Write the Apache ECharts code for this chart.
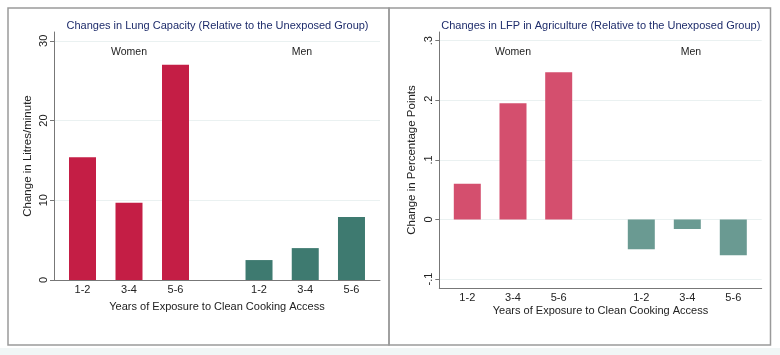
<!DOCTYPE html>
<html>
<head>
<meta charset="utf-8">
<script src="https://cdn.jsdelivr.net/npm/echarts@6/dist/echarts.min.js"></script>
<style>
html,body{margin:0;padding:0;background:#fff;}
#chart{width:780px;height:355px;}
</style>
</head>
<body>
<div id="chart"></div>
<script>
// ---- data ----
const categories = ['1-2', '3-4', '5-6'];
const groupLabels = ['Women', 'Men'];
const lungWomen = [15.4, 9.7, 27.0];
const lungMen = [2.5, 4.0, 7.9];
const lfpWomen = [0.06, 0.195, 0.247];
const lfpMen = [-0.05, -0.016, -0.06];
const lungTicks = [0, 10, 20, 30];
const lfpTicks = [-0.1, 0, 0.1, 0.2, 0.3];
const titles = ['Changes in Lung Capacity (Relative to the Unexposed Group)',
                'Changes in LFP in Agriculture (Relative to the Unexposed Group)'];
const yNames = ['Change in Litres/minute', 'Change in Percentage Points'];
const xName = 'Years of Exposure to Clean Cooking Access';

const FONT = '"Liberation Sans", Arial, Helvetica, sans-serif';
const colors = {
  lungW: '#c41e45', lungM: '#3e7a70',
  lfpW: '#d44f6e', lfpM: '#6a9a92'
};
const lungRange = [0, 31.1];
const lfpRange = [-0.115, 0.3146];

function fmtLfp(v) {
  if (Math.abs(v) < 1e-9) return '0';
  const s = String(Math.round(v * 10) / 10);
  return s.replace('0.', '.');
}

const chart = echarts.init(document.getElementById('chart'));

function bgY(gridIndex, range, ticks, name, nameGap, fmt) {
  return {
    gridIndex: gridIndex, type: 'value', min: range[0], max: range[1],
    name: name, nameLocation: 'middle', nameGap: nameGap, nameRotate: 90,
    nameTextStyle: {fontFamily: FONT, fontSize: 11.5, color: '#222'},
    axisLine: {show: true, lineStyle: {color: '#777', width: 1}},
    axisTick: {show: true, length: 4, customValues: ticks, lineStyle: {color: '#777'}},
    axisLabel: {show: true, rotate: 90, margin: 5, customValues: ticks,
      fontFamily: FONT, fontSize: 11, color: '#222', formatter: fmt},
    splitLine: {show: true, lineStyle: {color: '#eaf1f1', width: 1}}
  };
}
function hidY(gridIndex, range) {
  return {gridIndex: gridIndex, type: 'value', min: range[0], max: range[1], show: false,
    splitLine: {show: false}};
}
function bgX(gridIndex, nameGap) {
  return {
    gridIndex: gridIndex, type: 'value', min: 0, max: 1,
    name: xName, nameLocation: 'middle', nameGap: nameGap,
    nameTextStyle: {fontFamily: FONT, fontSize: 11, color: '#222'},
    axisLine: {show: true, onZero: false, lineStyle: {color: '#777', width: 1}},
    axisTick: {show: false}, axisLabel: {show: false}, splitLine: {show: false}
  };
}
function catX(gridIndex) {
  return {
    gridIndex: gridIndex, type: 'category', data: categories,
    axisLine: {show: false, onZero: false}, axisTick: {show: false},
    axisLabel: {show: true, margin: 4, fontFamily: FONT, fontSize: 11, color: '#222'},
    splitLine: {show: false}
  };
}
function bar(xi, yi, data, color) {
  return {type: 'bar', xAxisIndex: xi, yAxisIndex: yi, data: data, barWidth: 27,
    itemStyle: {color: color}, silent: true};
}

const option = {
  animation: false,
  backgroundColor: '#ffffff',
  title: [
    {text: titles[0], left: 217.5, top: 20, textAlign: 'center', padding: 0,
     textStyle: {fontFamily: FONT, fontSize: 11, fontWeight: 'normal', color: '#1e2c6b'}},
    {text: titles[1], left: 600.8, top: 20, textAlign: 'center', padding: 0,
     textStyle: {fontFamily: FONT, fontSize: 11, fontWeight: 'normal', color: '#1e2c6b'}}
  ],
  grid: [
    {left: 54, top: 32, width: 326, height: 248},
    {left: 59.25, top: 32, width: 139.5, height: 248},
    {left: 235.9, top: 32, width: 138.7, height: 248},
    {left: 439.3, top: 32, width: 322.4, height: 256},
    {left: 444.45, top: 32, width: 137.1, height: 256},
    {left: 618.3, top: 32, width: 138, height: 256}
  ],
  xAxis: [bgX(0, 21), catX(1), catX(2), bgX(3, 17), catX(4), catX(5)],
  yAxis: [
    bgY(0, lungRange, lungTicks, yNames[0], 20, v => String(v)),
    hidY(1, lungRange), hidY(2, lungRange),
    bgY(3, lfpRange, lfpTicks, yNames[1], 21, fmtLfp),
    hidY(4, lfpRange), hidY(5, lfpRange)
  ],
  series: [
    bar(1, 1, lungWomen, colors.lungW),
    bar(2, 2, lungMen, colors.lungM),
    bar(4, 4, lfpWomen, colors.lfpW),
    bar(5, 5, lfpMen, colors.lfpM)
  ],
  graphic: [
    {type: 'rect', shape: {x: 0, y: 348, width: 780, height: 7}, style: {fill: '#f1f6f6'}, silent: true},
    {type: 'rect', shape: {x: 8, y: 8, width: 381, height: 337},
     style: {fill: 'none', stroke: '#9a9a9a', lineWidth: 1.5}, silent: true},
    {type: 'rect', shape: {x: 389, y: 8, width: 381.5, height: 337},
     style: {fill: 'none', stroke: '#9a9a9a', lineWidth: 1.5}, silent: true},
    {type: 'text', x: 129, y: 52, style: {text: groupLabels[0], fontFamily: FONT, fontSize: 10.5,
      fill: '#222', align: 'center', verticalAlign: 'middle'}, silent: true},
    {type: 'text', x: 302, y: 52, style: {text: groupLabels[1], fontFamily: FONT, fontSize: 10.5,
      fill: '#222', align: 'center', verticalAlign: 'middle'}, silent: true},
    {type: 'text', x: 513, y: 52, style: {text: groupLabels[0], fontFamily: FONT, fontSize: 10.5,
      fill: '#222', align: 'center', verticalAlign: 'middle'}, silent: true},
    {type: 'text', x: 691, y: 52, style: {text: groupLabels[1], fontFamily: FONT, fontSize: 10.5,
      fill: '#222', align: 'center', verticalAlign: 'middle'}, silent: true}
  ]
};
chart.setOption(option);
</script>
</body>
</html>
